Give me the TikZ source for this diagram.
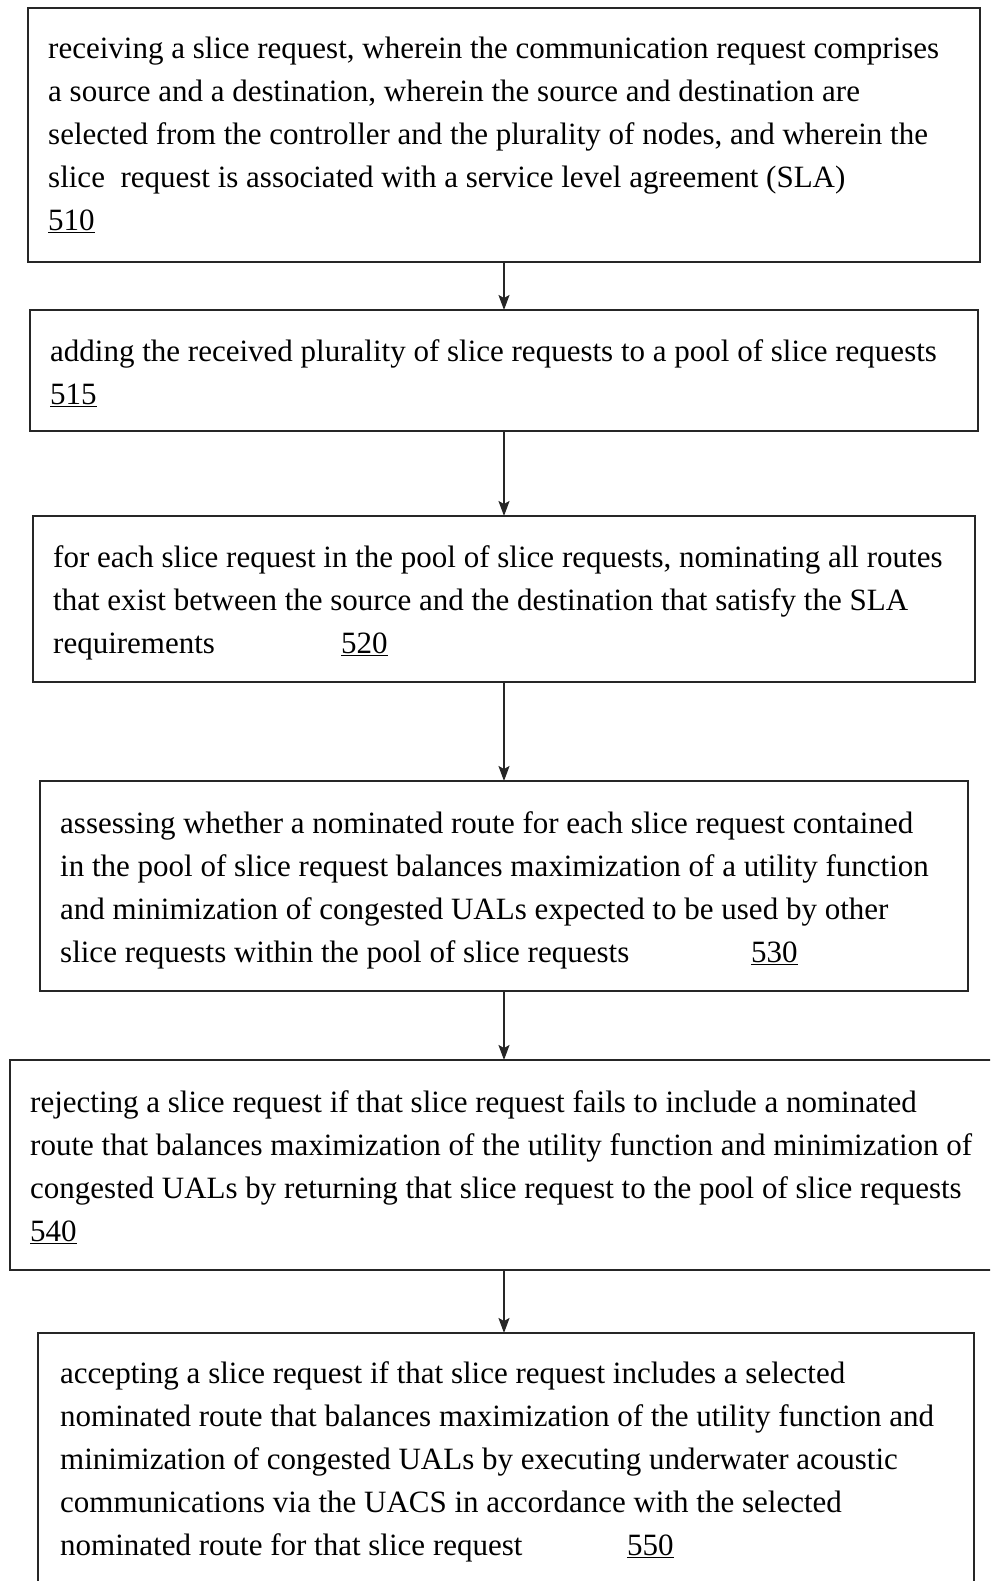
\documentclass[tikz,border=0pt]{standalone}
\usepackage{fontspec}
\setmainfont{Liberation Serif}
\usetikzlibrary{arrows.meta}
\begin{document}
\begin{tikzpicture}[x=1pt,y=-1pt,
  stepbox/.style={draw=black!85, line width=1.6pt, inner sep=0pt, outer sep=0pt, anchor=north west},
  steptext/.style={anchor=base west, align=left, inner sep=0pt, font=\fontsize{31}{42.8}\selectfont},
  refnum/.style={anchor=base west, inner sep=0pt, font=\fontsize{31}{42.8}\selectfont},
  arr/.style={line width=1.6pt, draw=black!85, -{Stealth[length=15pt,width=11pt,inset=3pt]}}]
\useasboundingbox (0,0) rectangle (990,1581);
\clip (0,0) rectangle (990,1581);
\fill[white] (0,0) rectangle (990,1581);

% step boxes
\node[stepbox, minimum width=952pt, minimum height=254pt] (b1) at (28,8) {};
\node[stepbox, minimum width=948pt, minimum height=121pt] (b2) at (30,310) {};
\node[stepbox, minimum width=942pt, minimum height=166pt] (b3) at (33,516) {};
\node[stepbox, minimum width=928pt, minimum height=210pt] (b4) at (40,781) {};
\node[stepbox, minimum width=988pt, minimum height=210pt] (b5) at (10,1060) {};
\node[stepbox, minimum width=936pt, minimum height=270pt] (b6) at (38,1333) {};

% step texts (anchored at the baseline of their last line)
\node[steptext] (t1) at (48,230) {receiving a slice request, wherein the communication request comprises\\
a source and a destination, wherein the source and destination are\\
selected from the controller and the plurality of nodes, and wherein the\\
slice\ \ request is associated with a service level agreement (SLA)\\
\underline{510}};
\node[steptext] (t2) at (50,404) {adding the received plurality of slice requests to a pool of slice requests\\
\underline{515}};
\node[steptext] (t3) at (53,653) {for each slice request in the pool of slice requests, nominating all routes\\
that exist between the source and the destination that satisfy the SLA\\
requirements};
\node[refnum] (n3) at (341,653) {\underline{520}};
\node[steptext] (t4) at (60,962) {assessing whether a nominated route for each slice request contained\\
in the pool of slice request balances maximization of a utility function\\
and minimization of congested UALs expected to be used by other\\
slice requests within the pool of slice requests};
\node[refnum] (n4) at (751,962) {\underline{530}};
\node[steptext] (t5) at (30,1241) {rejecting a slice request if that slice request fails to include a nominated\\
route that balances maximization of the utility function and minimization of\\
congested UALs by returning that slice request to the pool of slice requests\\
\underline{540}};
\node[steptext] (t6) at (60,1555) {accepting a slice request if that slice request includes a selected\\
nominated route that balances maximization of the utility function and\\
minimization of congested UALs by executing underwater acoustic\\
communications via the UACS in accordance with the selected\\
nominated route for that slice request};
\node[refnum] (n6) at (627,1555) {\underline{550}};

% connectors
\draw[arr] (b1.south) -- (b1.south |- b2.north);
\draw[arr] (b2.south) -- (b2.south |- b3.north);
\draw[arr] (b3.south) -- (b3.south |- b4.north);
\draw[arr] (b4.south) -- (b4.south |- b5.north);
\draw[arr] (b5.south) -- (b5.south |- b6.north);
\end{tikzpicture}
\end{document}
